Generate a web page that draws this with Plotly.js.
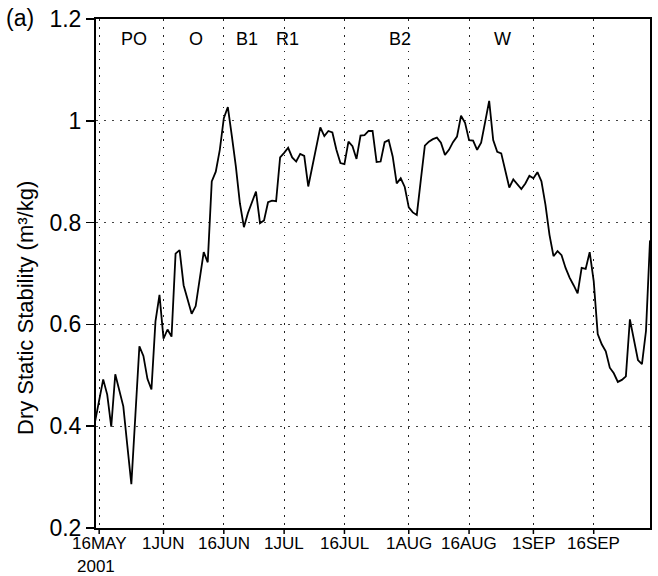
<!DOCTYPE html>
<html>
<head>
<meta charset="utf-8">
<script src="https://cdn.plot.ly/plotly-3.0.1.min.js"></script>
<style>html,body{margin:0;padding:0;background:#fff;}#chart{width:658px;height:576px;}</style>
</head>
<body>
<div id="chart"></div>
<script>
// Daily series starting 15 May 2001
const startDate = '2001-05-15';
const stability = [
  0.41, 0.455, 0.492, 0.462, 0.399, 0.502, 0.470, 0.439, 0.362, 0.286,
  0.421, 0.557, 0.538, 0.493, 0.472, 0.606, 0.658, 0.572, 0.590, 0.576,
  0.739, 0.746, 0.677, 0.651, 0.621, 0.636, 0.685, 0.742, 0.722, 0.881,
  0.900, 0.943, 1.005, 1.027, 0.970, 0.910, 0.838, 0.791, 0.819, 0.841,
  0.861, 0.799, 0.804, 0.840, 0.843, 0.842, 0.928, 0.937, 0.947, 0.928,
  0.920, 0.935, 0.931, 0.871, 0.909, 0.954, 0.987, 0.970, 0.980, 0.977,
  0.943, 0.917, 0.915, 0.959, 0.950, 0.925, 0.971, 0.972, 0.980, 0.980,
  0.919, 0.920, 0.958, 0.962, 0.930, 0.877, 0.887, 0.870, 0.830, 0.820,
  0.815, 0.884, 0.951, 0.959, 0.964, 0.967, 0.957, 0.933, 0.943, 0.958,
  0.969, 1.010, 0.996, 0.962, 0.961, 0.943, 0.957, 0.998, 1.039, 0.962,
  0.939, 0.936, 0.904, 0.869, 0.885, 0.876, 0.866, 0.877, 0.892, 0.887,
  0.899, 0.881, 0.835, 0.776, 0.734, 0.744, 0.736, 0.711, 0.692, 0.677,
  0.661, 0.711, 0.709, 0.742, 0.685, 0.581, 0.561, 0.547, 0.515, 0.504,
  0.487, 0.491, 0.498, 0.610, 0.571, 0.530, 0.522, 0.587, 0.765
];
const xTickVals = ['2001-05-16','2001-06-01','2001-06-16','2001-07-01','2001-07-16','2001-08-01','2001-08-16','2001-09-01','2001-09-16'];
const xTickText = ['16MAY','1JUN','16JUN','1JUL','16JUL','1AUG','16AUG','1SEP','16SEP'];
const yTickVals = [0.2, 0.4, 0.6, 0.8, 1.0, 1.2];
const yTickText = ['0.2','0.4','0.6','0.8','1','1.2'];
const phaseLabels = ['PO','O','B1','R1','B2','W'];
const phasePixelX = [134, 196, 247, 287, 400, 502];

function dayString(i) {
  const d = new Date(startDate + 'T00:00:00Z');
  d.setUTCDate(d.getUTCDate() + i);
  return d.toISOString().slice(0, 10);
}
const dates = stability.map((_, i) => dayString(i));

const L = 96, R = 650, T = 19, B = 528;
const px = v => (v - L) / (R - L);
const py = v => (B - v) / (B - T);
const FONT = 'Liberation Sans, Arial, sans-serif';

const annotations = [
  {text: '(a)', xref: 'paper', yref: 'paper', x: px(4), y: py(18), xanchor: 'left', yanchor: 'middle', showarrow: false, font: {family: FONT, size: 23, color: '#000'}},
  {text: 'Dry Static Stability (m³/kg)', xref: 'paper', yref: 'paper', x: px(25), y: py(308), xanchor: 'center', yanchor: 'middle', textangle: -90, showarrow: false, font: {family: FONT, size: 22, color: '#000'}},
  {text: '2001', xref: 'paper', yref: 'paper', x: px(96), y: py(566), xanchor: 'center', yanchor: 'middle', showarrow: false, font: {family: FONT, size: 17, color: '#000'}}
];
phaseLabels.forEach((t, i) => annotations.push({
  text: t, xref: 'paper', yref: 'paper', x: px(phasePixelX[i]), y: py(39), xanchor: 'center', yanchor: 'middle', showarrow: false, font: {family: FONT, size: 18, color: '#000'}
}));
// x tick labels placed close to the axis, as in the reference
xTickVals.forEach((v, i) => annotations.push({
  text: xTickText[i], xref: 'x', yref: 'paper', x: v, y: py(543), xanchor: 'center', yanchor: 'middle', showarrow: false, font: {family: FONT, size: 17, color: '#000'}
}));

// x tick marks drawn below the axis
const shapes = xTickVals.map(v => ({
  type: 'line', xref: 'x', yref: 'paper', x0: v, x1: v, y0: 0, y1: -6 / (B - T),
  line: {color: '#000', width: 1.5}
}));

const trace = {
  x: dates, y: stability, type: 'scatter', mode: 'lines',
  line: {color: '#000', width: 1.8}, hoverinfo: 'skip'
};

const layout = {
  width: 658, height: 576,
  margin: {l: L, r: 658 - R, t: T, b: 576 - B, pad: 0},
  paper_bgcolor: '#fff', plot_bgcolor: '#fff',
  showlegend: false,
  font: {family: FONT, color: '#000'},
  xaxis: {
    type: 'date',
    range: ['2001-05-15 05:00', '2001-09-30 00:00'],
    tickmode: 'array', tickvals: xTickVals, ticktext: xTickText,
    showticklabels: false, ticks: '', ticklen: 0,
    showline: true, linewidth: 2, linecolor: '#000', mirror: true,
    showgrid: true, gridcolor: '#222', gridwidth: 1, griddash: '1.5px,6.5px',
    zeroline: false
  },
  yaxis: {
    range: [0.2, 1.2],
    tickmode: 'array', tickvals: yTickVals, ticktext: yTickText,
    ticks: 'outside', ticklen: 8, tickwidth: 1.5, tickcolor: '#000',
    tickfont: {family: FONT, size: 23, color: '#000'},
    showline: true, linewidth: 2, linecolor: '#000', mirror: true,
    showgrid: true, gridcolor: '#444', gridwidth: 1, griddash: '1.5px,6.5px',
    zeroline: false
  },
  shapes: shapes,
  annotations: annotations
};

Plotly.newPlot('chart', [trace], layout, {staticPlot: true, displayModeBar: false});
</script>
</body>
</html>
